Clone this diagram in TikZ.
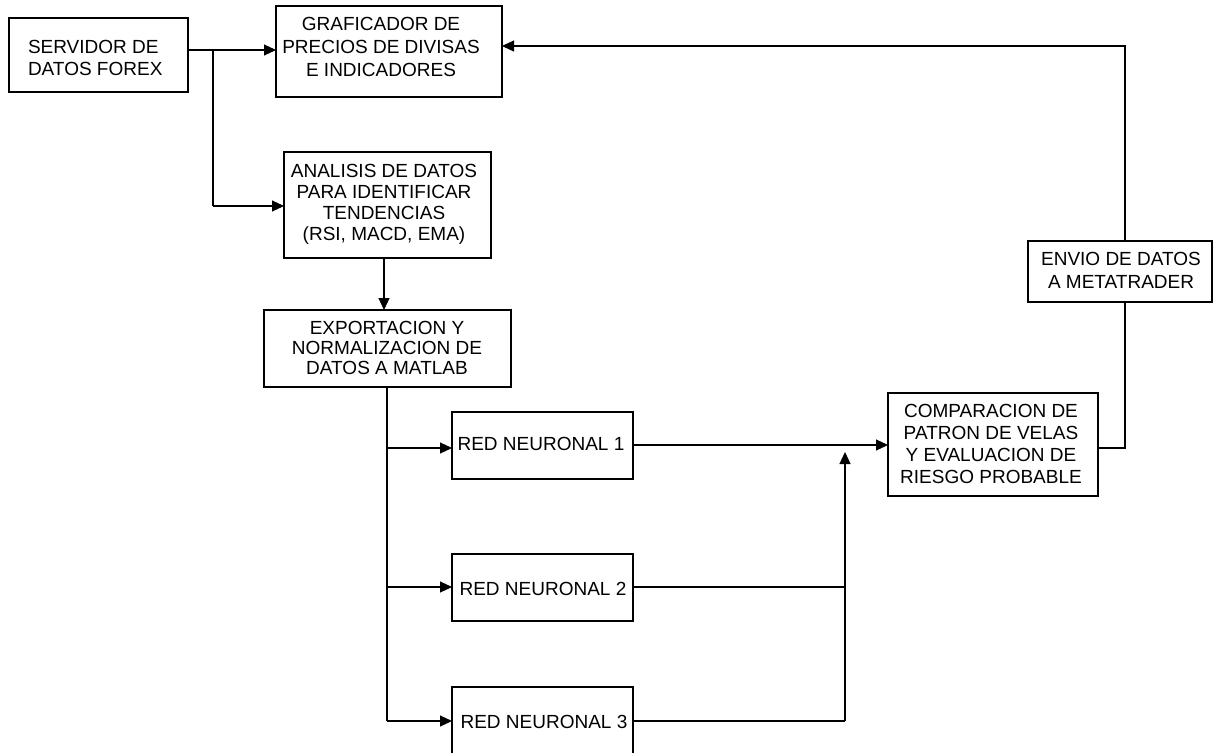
\documentclass[tikz,border=0pt]{standalone}
\usepackage{fontspec}
\setmainfont{Liberation Sans}
\usetikzlibrary{arrows.meta}

\begin{document}
\begin{tikzpicture}[x=1pt,y=-1pt,
  box/.style={draw=black, line width=1.1pt, inner sep=0pt, outer sep=0pt,
              anchor=north west, minimum width=#1},
  % texts are placed by the baseline of their last line
  lbl/.style={inner sep=0pt, outer sep=0pt, align=center, anchor=base,
              font=\fontsize{19}{#1}\selectfont},
  lbl/.default=22,
  wire/.style={line width=1.1pt, draw=black},
  arr/.style={wire, -{Triangle[length=12pt,width=11pt]}}
]
\useasboundingbox (0,0) rectangle (1214,752);

% blocks
\node[box=179, minimum height=74] (srv)  at (9,18)    {};
\node[box=226, minimum height=91] (graf) at (276,6)   {};
\node[box=207, minimum height=106] (anal) at (284,152) {};
\node[box=247, minimum height=77] (expo) at (264,310)  {};
\node[box=181, minimum height=67] (rn1)  at (452,412)  {};
\node[box=181, minimum height=67] (rn2)  at (452,554)  {};
\node[box=181, minimum height=67] (rn3)  at (452,687)  {};
\node[box=210, minimum height=103] (comp) at (888,393) {};
\node[box=184, minimum height=61] (env)  at (1028,241) {};

% block texts
\node[lbl=22, align=left, anchor=base west] (tsrv) at (28,75) {SERVIDOR DE\\DATOS FOREX};
\node[lbl=23] (tgraf) at (381,76) {GRAFICADOR DE\\PRECIOS DE DIVISAS\\E INDICADORES};
\node[lbl=21] (tanal) at (384,240) {ANALISIS DE DATOS\\PARA IDENTIFICAR\\TENDENCIAS\\(RSI, MACD, EMA)};
\node[lbl=20] (texpo) at (387,374) {EXPORTACION Y\\NORMALIZACION DE\\DATOS A MATLAB};
\node[lbl] (trn1) at (541,450) {RED NEURONAL 1};
\node[lbl] (trn2) at (543,595) {RED NEURONAL 2};
\node[lbl] (trn3) at (544,728) {RED NEURONAL 3};
\node[lbl=22] (tcomp) at (991,483) {COMPARACION DE\\PATRON DE VELAS\\Y EVALUACION DE\\RIESGO PROBABLE};
\node[lbl=23] (tenv) at (1121,288) {ENVIO DE DATOS\\A METATRADER};

% junction points of the wiring
\coordinate (s1) at (213,50);
\coordinate (s2) at (213,206);
\coordinate (ax) at (384,0);
\coordinate (b1) at (387,448);
\coordinate (b2) at (387,587);
\coordinate (b3) at (387,721);
\coordinate (y1) at (0,445);
\coordinate (m2) at (845,587);
\coordinate (m3) at (845,721);
\coordinate (mt) at (845,452);
\coordinate (c1) at (1125,448);
\coordinate (g1) at (1125,46);

% data server feeds the chart and the analysis
\draw[arr] (srv.east |- s1) -- (graf.west |- s1);
\draw[wire] (s1) -- (s2);
\draw[arr] (s2) -- (anal.west |- s2);

% analysis to export
\draw[arr] (anal.south -| ax) -- (expo.north -| ax);

% export bus to the three networks
\draw[wire] (expo.south -| b3) -- (b3);
\draw[arr] (b1) -- (rn1.west |- b1);
\draw[arr] (b2) -- (rn2.west |- b2);
\draw[arr] (b3) -- (rn3.west |- b3);

% network outputs merge into the comparison block
\draw[arr] (rn1.east |- y1) -- (comp.west |- y1);
\draw[wire] (rn2.east |- m2) -- (m2);
\draw[wire] (rn3.east |- m3) -- (m3);
\draw[arr] (m3) -- (mt);

% comparison to MetaTrader and back to the chart
\draw[wire] (comp.east |- c1) -- (c1) -- (env.south -| c1);
\draw[arr] (env.north -| c1) -- (g1) -- (graf.east |- g1);
\end{tikzpicture}
\end{document}
